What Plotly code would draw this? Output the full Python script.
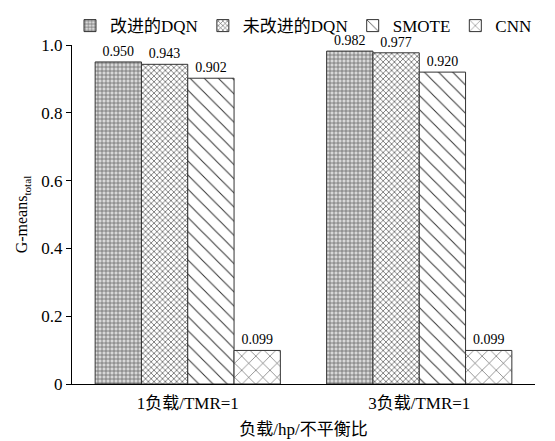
import plotly.graph_objects as go

categories = ["1负载/TMR=1", "3负载/TMR=1"]
series_names = ["改进的DQN", "未改进的DQN", "SMOTE", "CNN"]
improved_dqn = [0.950, 0.982]
plain_dqn = [0.943, 0.977]
smote = [0.902, 0.920]
cnn = [0.099, 0.099]
y_tickvals = [0, 0.2, 0.4, 0.6, 0.8, 1.0]
y_ticktext = ["0", "0.2", "0.4", "0.6", "0.8", "1.0"]

values = [improved_dqn, plain_dqn, smote, cnn]
patterns = [
    dict(shape="+", size=4, solidity=0.35, fgcolor="#6a6a6a", bgcolor="#d8d8d8", fillmode="replace"),
    dict(shape="x", size=4, solidity=0.3, fgcolor="#444444", bgcolor="white", fillmode="replace"),
    dict(shape="\\", size=10, solidity=0.1, fgcolor="#333333", bgcolor="white", fillmode="replace"),
    dict(shape="x", size=10, solidity=0.1, fgcolor="#333333", bgcolor="white", fillmode="replace"),
]

font_fam = "Liberation Serif, Times New Roman, Noto Sans CJK SC, serif"

fig = go.Figure()
for name, vals, pat in zip(series_names, values, patterns):
    fig.add_trace(go.Bar(
        x=categories, y=vals, name=name,
        marker=dict(color="white", pattern=pat, line=dict(color="#333333", width=1)),
        text=[f"{v:.3f}" for v in vals], textposition="outside",
        textfont=dict(size=14, color="black", family=font_fam),
        cliponaxis=False,
    ))

# page body has an 8px margin, so the figure is sized to fit the 555x441 window
fig.update_layout(
    width=547, height=433,
    margin=dict(l=64, r=20, t=37, b=57, autoexpand=False),
    paper_bgcolor="white", plot_bgcolor="white",
    barmode="group", bargap=0.2, bargroupgap=0,
    font=dict(family=font_fam, size=16, color="black"),
    showlegend=True,
    legend=dict(orientation="h", x=0.5, xanchor="center", y=1.109, yanchor="top",
                yref="paper", font=dict(size=17), bgcolor="rgba(0,0,0,0)",
                tracegroupgap=0, traceorder="normal"),
    xaxis=dict(showline=True, linecolor="black", linewidth=1, ticks="", automargin=False,
               tickfont=dict(size=17), range=[-0.5, 1.5], ticklabelstandoff=4,
               title=dict(text="负载/hp/不平衡比", font=dict(size=17), standoff=10)),
    yaxis=dict(range=[0, 1.0], showline=True, linecolor="black", linewidth=1, automargin=False,
               ticks="outside", ticklen=5, tickcolor="black", showgrid=False, zeroline=False,
               tickvals=y_tickvals, ticktext=y_ticktext, tickfont=dict(size=17),
               title=dict(text="G-means<sub>total</sub>", font=dict(size=16), standoff=9)),
)

fig.write_html("out.html")
